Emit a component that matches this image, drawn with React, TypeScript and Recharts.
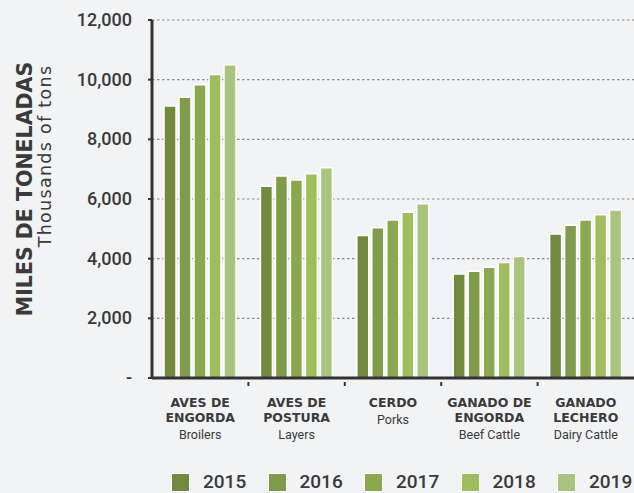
import { BarChart, Bar, XAxis, YAxis, CartesianGrid } from "recharts";

const categoryTitles = [
  ["AVES DE", "ENGORDA"],
  ["AVES DE", "POSTURA"],
  ["CERDO"],
  ["GANADO DE", "ENGORDA"],
  ["GANADO", "LECHERO"],
];
const categorySubtitles = ["Broilers", "Layers", "Porks", "Beef Cattle", "Dairy Cattle"];

const years = ["2015", "2016", "2017", "2018", "2019"];
const yearColors = ["#728a3f", "#809c4a", "#8ca84f", "#a0bd5e", "#aac47f"];

const values2015 = [9120, 6430, 4780, 3490, 4830];
const values2016 = [9410, 6770, 5040, 3580, 5120];
const values2017 = [9830, 6640, 5300, 3710, 5300];
const values2018 = [10170, 6850, 5560, 3870, 5470];
const values2019 = [10500, 7050, 5840, 4070, 5630];

const yTicks = [0, 2000, 4000, 6000, 8000, 10000, 12000];

const seriesValues = [values2015, values2016, values2017, values2018, values2019];

const data = categorySubtitles.map((sub, i) => {
  const row: Record<string, string | number> = { name: sub, idx: i };
  years.forEach((y, k) => {
    row[y] = seriesValues[k][i];
  });
  return row;
});

const TEXT = "#3a3a3a";
const FONT = "Roboto, 'DejaVu Sans', sans-serif";
const WIDE = "'DejaVu Sans', sans-serif";

function YTick(props: any) {
  const { x, y, payload } = props;
  const v = Number(payload.value);
  return (
    <text
      x={x - 14}
      y={y}
      dy={6}
      textAnchor="end"
      fill={TEXT}
      fontSize={18}
      fontWeight={500}
      fontFamily={FONT}
    >
      {v === 0 ? "-" : v.toLocaleString("en-US")}
    </text>
  );
}

function XTick(props: any) {
  const { x, y, index } = props;
  const titles = categoryTitles[index] || [];
  const band = 96.4;
  return (
    <g>
      {index > 0 && (
        <line x1={x - band / 2} x2={x - band / 2} y1={y - 4} y2={y} stroke="#333" strokeWidth={2} />
      )}
      {titles.map((t, k) => (
        <text
          key={k}
          x={x}
          y={y + 21 + k * 15}
          textAnchor="middle"
          fill={TEXT}
          fontSize={12.5}
          fontWeight={700}
          fontFamily={WIDE}
        >
          {t}
        </text>
      ))}
      <text
        x={x}
        y={y + 21 + titles.length * 15 + 1.5}
        textAnchor="middle"
        fill={TEXT}
        fontSize={12.5}
        fontFamily={FONT}
      >
        {categorySubtitles[index]}
      </text>
    </g>
  );
}

function ChartLegend() {
  return (
    <div
      style={{
        position: "absolute",
        left: 172,
        top: 472,
        display: "flex",
        alignItems: "center",
      }}
    >
      {years.map((y, k) => (
        <div key={y} style={{ display: "flex", alignItems: "center", width: 96.5 }}>
          <span
            style={{
              display: "inline-block",
              width: 17,
              height: 17,
              background: yearColors[k],
              outline: "1.5px solid #fff",
              marginRight: 14,
            }}
          />
          <span style={{ fontSize: 19, lineHeight: "20px", color: TEXT, fontFamily: FONT, fontWeight: 500 }}>
            {y}
          </span>
        </div>
      ))}
    </div>
  );
}

export default function App() {
  return (
    <div
      style={{
        position: "absolute",
        left: 0,
        top: 0,
        width: 634,
        height: 493,
        background: "#f2f3f4",
        overflow: "hidden",
      }}
    >
      <BarChart
        width={634}
        height={493}
        data={data}
        margin={{ top: 20, right: 0, bottom: 0, left: 0 }}
        barGap={3}
        barSize={12}
      >
        <CartesianGrid vertical={false} stroke="#8a8a8a" strokeDasharray="2.5 2.5" strokeWidth={1.2} />
        <XAxis
          dataKey="name"
          axisLine={{ stroke: "#333", strokeWidth: 3 }}
          tickLine={false}
          tick={<XTick />}
          interval={0}
          height={115}
        />
        <YAxis
          width={152}
          domain={[0, 12000]}
          ticks={yTicks}
          axisLine={{ stroke: "#333", strokeWidth: 3 }}
          tickLine={{ stroke: "#333", strokeWidth: 2 }}
          tickSize={4}
          tick={<YTick />}
        />
        {years.map((y, k) => (
          <Bar
            key={y}
            dataKey={y}
            fill={yearColors[k]}
            stroke="#ffffff"
            strokeWidth={1.5}
            isAnimationActive={false}
          />
        ))}
      </BarChart>
      <ChartLegend />
      <svg
        width={70}
        height={493}
        style={{ position: "absolute", left: 0, top: 0, pointerEvents: "none" }}
      >
        <text
          transform="translate(32,189) rotate(-90)"
          textAnchor="middle"
          fill={TEXT}
          fontSize={20.5}
          fontWeight={700}
          fontFamily={WIDE}
        >
          MILES DE TONELADAS
        </text>
        <text
          transform="translate(51,156) rotate(-90)"
          textAnchor="middle"
          fill={TEXT}
          fontSize={17.5}
          letterSpacing={1.3}
          fontFamily={WIDE}
        >
          Thousands of tons
        </text>
      </svg>
    </div>
  );
}
